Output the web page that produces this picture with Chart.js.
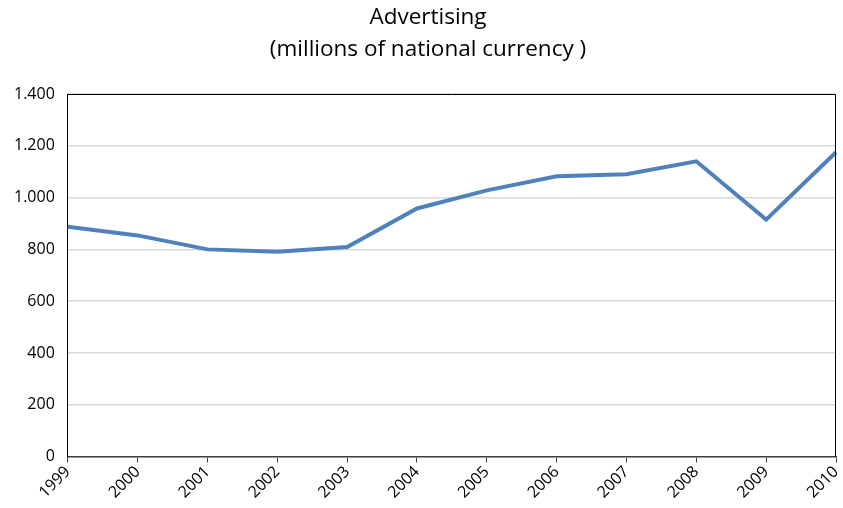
<!DOCTYPE html>
<html>
<head>
<meta charset="utf-8">
<script src="https://cdn.jsdelivr.net/npm/chart.js@4/dist/chart.umd.min.js"></script>
<style>
  html, body { margin: 0; padding: 0; background: #fff; overflow: hidden; }
  #wrap { width: 856px; height: 508px; position: relative; }
</style>
</head>
<body>
<div id="wrap"><canvas id="myChart"></canvas></div>
<script>
const years = ['1999', '2000', '2001', '2002', '2003', '2004', '2005', '2006', '2007', '2008', '2009', '2010'];
const advertising = [887, 854, 800, 791, 809, 958, 1028, 1082, 1090, 1140, 915, 1175];
const titleLines = ['Advertising', '(millions of national currency )'];
const yMin = 0;
const yMax = 1400;
const yStep = 200;

const fontFamily = "'Open Sans', 'Liberation Sans', sans-serif";

// thousands separator is a dot in the original
const fmt = (v) => String(v).replace(/\B(?=(\d{3})+(?!\d))/g, '.');

// title, centred on the canvas (the built-in one centres between the paddings)
const titleText = {
    id: 'titleText',
    afterDraw: (chart) => {
        const ctx = chart.ctx;
        ctx.save();
        ctx.fillStyle = '#000';
        ctx.font = '22.5px ' + fontFamily;
        ctx.textAlign = 'center';
        ctx.textBaseline = 'middle';
        titleLines.forEach((line, i) => {
            ctx.fillText(line, chart.width / 2, 18 + i * 32);
        });
        ctx.restore();
    }
};

// box around the plot area (top and right sides)
const frame = {
    id: 'frame',
    afterDraw: (chart) => {
        const a = chart.chartArea;
        const ctx = chart.ctx;
        ctx.save();
        ctx.strokeStyle = '#000';
        ctx.lineWidth = 1;
        ctx.beginPath();
        ctx.moveTo(a.left, a.top + 0.5);
        ctx.lineTo(a.right - 0.5, a.top + 0.5);
        ctx.lineTo(a.right - 0.5, a.bottom);
        ctx.stroke();
        ctx.restore();
    }
};

const ctx = document.getElementById('myChart').getContext('2d');
const chart = new Chart(ctx, {
    type: 'line',
    data: {
        labels: years,
        datasets: [{
            label: 'Advertising',
            data: advertising,
            borderColor: '#4f81bd',
            backgroundColor: '#4f81bd',
            borderWidth: 4,
            pointRadius: 0,
            tension: 0,
            fill: false
        }]
    },
    options: {
        responsive: true,
        maintainAspectRatio: false,
        animation: false,
        layout: { padding: { left: 1, right: 20, top: 94, bottom: 6 } },
        plugins: {
            legend: { display: false },
            tooltip: { enabled: false },
            title: { display: false }
        },
        scales: {
            x: {
                offset: false,
                grid: {
                    drawOnChartArea: false,
                    drawTicks: true,
                    tickLength: 6,
                    color: '#404040'
                },
                border: { display: true, color: '#404040', width: 1.5 },
                ticks: {
                    color: '#000',
                    font: { family: fontFamily, size: 16 },
                    minRotation: 45,
                    maxRotation: 45,
                    padding: 0,
                    autoSkip: false
                }
            },
            y: {
                min: yMin,
                max: yMax,
                grid: {
                    color: '#d9d9d9',
                    lineWidth: 1.5,
                    drawTicks: false
                },
                border: { display: true, color: '#000', width: 1 },
                ticks: {
                    stepSize: yStep,
                    color: '#000',
                    padding: 13,
                    font: { family: fontFamily, size: 16 },
                    callback: (v) => fmt(v)
                }
            }
        }
    },
    plugins: [titleText, frame]
});
</script>
</body>
</html>
